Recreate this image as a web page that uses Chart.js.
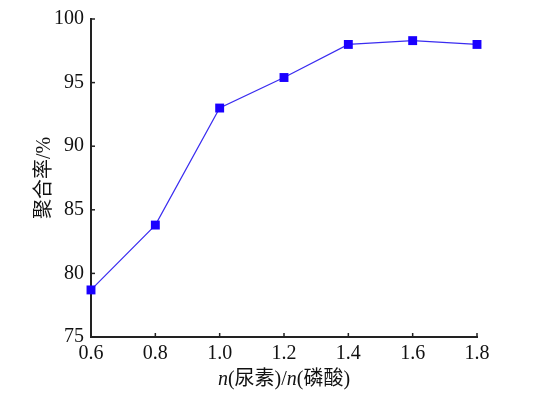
<!DOCTYPE html>
<html><head><meta charset="utf-8">
<script src="https://cdn.jsdelivr.net/npm/chart.js@4"></script>
<style>html,body{margin:0;padding:0;background:#fff}#w{width:533px;height:398px}</style>
</head><body><div id="w"><canvas id="c" width="533" height="398"></canvas></div>
<script>
const ratios = [0.6, 0.8, 1.0, 1.2, 1.4, 1.6, 1.8];
const yieldPct = [78.7, 83.8, 93.0, 95.4, 98.0, 98.3, 98.0];
const xTicks = [0.6, 0.8, 1.0, 1.2, 1.4, 1.6, 1.8];
const yTicks = [75, 80, 85, 90, 95, 100];
const yTitle = '聚合率/%';
const xTitleParts = [['n', true], ['(尿素)/', false], ['n', true], ['(磷酸)', false]];

const serif = '"Liberation Serif", "Noto Sans CJK SC", serif';
const inwardTicks = {
  id: 'inwardTicks',
  afterDraw(chart) {
    const ctx = chart.ctx, a = chart.chartArea;
    const xs = chart.scales.x, ys = chart.scales.y;
    ctx.save();
    ctx.strokeStyle = '#222'; ctx.lineWidth = 1.5;
    xTicks.forEach(v => { const p = xs.getPixelForValue(v); ctx.beginPath(); ctx.moveTo(p, a.bottom); ctx.lineTo(p, a.bottom - 4); ctx.stroke(); });
    yTicks.forEach(v => { const p = ys.getPixelForValue(v); ctx.beginPath(); ctx.moveTo(a.left, p); ctx.lineTo(a.left + 4, p); ctx.stroke(); });
    // x title with italic n
    ctx.fillStyle = '#111'; ctx.textBaseline = 'alphabetic';
    const fonts = it => (it ? 'italic ' : '') + '20px ' + serif;
    let total = 0;
    xTitleParts.forEach(([t, it]) => { ctx.font = fonts(it); total += ctx.measureText(t).width; });
    let x = (a.left + a.right) / 2 - total / 2;
    const y = 385;
    xTitleParts.forEach(([t, it]) => { ctx.font = fonts(it); ctx.fillText(t, x, y); x += ctx.measureText(t).width; });
    ctx.restore();
  }
};

new Chart(document.getElementById('c'), {
  type: 'line',
  data: { datasets: [{
    data: ratios.map((r, i) => ({ x: r, y: yieldPct[i] })),
    borderColor: '#3a2cf0', borderWidth: 1.2, backgroundColor: '#1a00ff',
    pointStyle: 'rect', pointRadius: 6.3, pointBorderWidth: 0, tension: 0, clip: false
  }] },
  options: {
    responsive: false, animation: false, devicePixelRatio: 1,
    layout: { padding: { top: 17, right: 56, left: 33, bottom: 0 } },
    plugins: { legend: { display: false }, tooltip: { enabled: false } },
    scales: {
      x: {
        type: 'linear', min: 0.6, max: 1.8,
        afterBuildTicks: s => { s.ticks = xTicks.map(v => ({ value: v })); },
        afterFit: s => { s.height = 61; },
        border: { display: true, color: '#222', width: 2 },
        grid: { display: false, drawTicks: false, tickLength: 0 },
        ticks: { color: '#111', font: { family: serif, size: 20 }, padding: 5, maxRotation: 0,
          callback: v => v.toFixed(1) }
      },
      y: {
        min: 75, max: 100,
        afterBuildTicks: s => { s.ticks = yTicks.map(v => ({ value: v })); },
        afterFit: s => { s.width = 58; },
        border: { display: true, color: '#222', width: 2 },
        grid: { display: false, drawTicks: false, tickLength: 0 },
        ticks: { color: '#111', font: { family: serif, size: 20 }, padding: 7 },
        title: { display: true, text: yTitle, color: '#111', font: { family: serif, size: 20 }, padding: { top: 0, bottom: 2 } }
      }
    }
  },
  plugins: [inwardTicks]
});
</script></body></html>
